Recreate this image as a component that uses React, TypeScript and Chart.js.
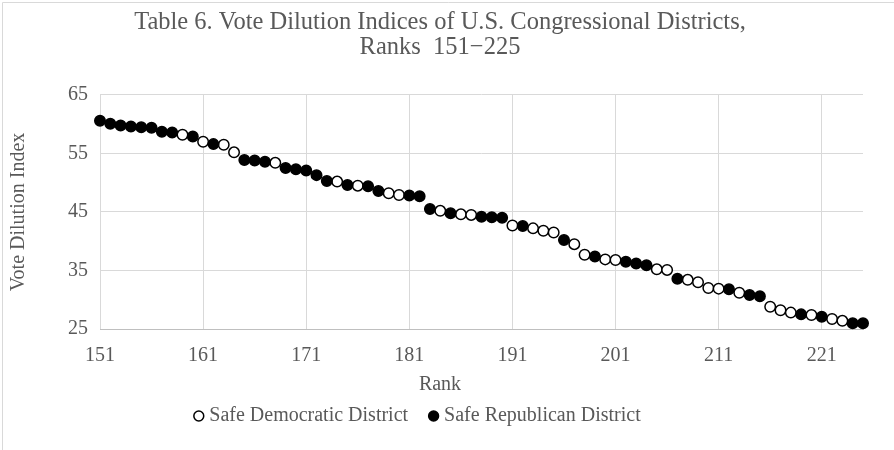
import { useEffect, useRef } from "react";
import { Chart, registerables } from "chart.js";

Chart.register(...registerables);

// District rank (x) and its vote dilution index (y)
const ranks = [
  151, 152, 153, 154, 155, 156, 157, 158, 159, 160,
  161, 162, 163, 164, 165, 166, 167, 168, 169, 170,
  171, 172, 173, 174, 175, 176, 177, 178, 179, 180,
  181, 182, 183, 184, 185, 186, 187, 188, 189, 190,
  191, 192, 193, 194, 195, 196, 197, 198, 199, 200,
  201, 202, 203, 204, 205, 206, 207, 208, 209, 210,
  211, 212, 213, 214, 215, 216, 217, 218, 219, 220,
  221, 222, 223, 224, 225,
];

// D = safe Democratic, R = safe Republican
const party = [
  "R", "R", "R", "R", "R", "R", "R", "R", "D", "R",
  "D", "R", "D", "D", "R", "R", "R", "D", "R", "R",
  "R", "R", "R", "D", "R", "D", "R", "R", "D", "D",
  "R", "R", "R", "D", "R", "D", "D", "R", "R", "R",
  "D", "R", "D", "D", "D", "R", "D", "D", "R", "D",
  "D", "R", "R", "R", "D", "D", "R", "D", "D", "D",
  "D", "R", "D", "R", "R", "D", "D", "D", "R", "D",
  "R", "D", "D", "R", "R",
];

const dilution = [
  60.6, 60.1, 59.8, 59.6, 59.5, 59.4, 58.7, 58.6, 58.2, 57.9,
  57.0, 56.6, 56.5, 55.2, 53.9, 53.8, 53.6, 53.4, 52.5, 52.3,
  52.1, 51.3, 50.3, 50.2, 49.6, 49.5, 49.4, 48.6, 48.2, 47.9,
  47.8, 47.7, 45.5, 45.2, 44.8, 44.6, 44.5, 44.2, 44.1, 44.0,
  42.7, 42.6, 42.2, 41.8, 41.5, 40.2, 39.5, 37.7, 37.4, 36.9,
  36.8, 36.5, 36.2, 35.9, 35.2, 35.1, 33.6, 33.4, 33.0, 32.0,
  31.9, 31.8, 31.2, 30.8, 30.6, 28.8, 28.2, 27.8, 27.5, 27.4,
  27.1, 26.7, 26.4, 26.0, 26.0,
];

const rankTicks = [151, 161, 171, 181, 191, 201, 211, 221];
const indexTicks = [25, 35, 45, 55, 65];

const TEXT = "#595959";
const GRID = "#d9d9d9";
const FONT = "'Liberation Serif', 'Times New Roman', serif";

function pointsFor(code: string) {
  const out: { x: number; y: number }[] = [];
  ranks.forEach((r, i) => {
    if (party[i] === code) out.push({ x: r, y: dilution[i] });
  });
  return out;
}

// thin outline along the top and left edges of the chart frame
const framePlugin = {
  id: "frame",
  beforeDraw(chart: Chart) {
    const ctx = chart.ctx;
    ctx.save();
    ctx.strokeStyle = GRID;
    ctx.lineWidth = 1;
    ctx.beginPath();
    ctx.moveTo(2.5, chart.height);
    ctx.lineTo(2.5, 2.5);
    ctx.lineTo(chart.width, 2.5);
    ctx.stroke();
    ctx.restore();
  },
};

export default function App() {
  const canvasRef = useRef<HTMLCanvasElement | null>(null);

  useEffect(() => {
    document.body.style.margin = "0";
    const canvas = canvasRef.current;
    if (!canvas) return;

    const marker = {
      pointRadius: 5.25,
      pointHoverRadius: 5.25,
      borderWidth: 1.5,
      borderColor: "#000000",
      clip: false as const,
    };

    const chart = new Chart(canvas, {
      type: "scatter",
      data: {
        datasets: [
          {
            label: "Safe Democratic District",
            data: pointsFor("D"),
            backgroundColor: "#ffffff",
            order: 1,
            ...marker,
          },
          {
            label: "Safe Republican District",
            data: pointsFor("R"),
            backgroundColor: "#000000",
            order: 0,
            ...marker,
          },
        ],
      },
      options: {
        animation: false,
        responsive: false,
        events: [],
        layout: { padding: { left: 0, right: 14, top: 0, bottom: 14 } },
        plugins: {
          title: {
            display: true,
            text: [
              "Table 6. Vote Dilution Indices of U.S. Congressional Districts,",
              "Ranks  151\u2212225",
            ],
            color: TEXT,
            font: { family: FONT, size: 24.5, weight: "normal", lineHeight: 1.02 },
            padding: { top: 10, bottom: 35 },
          },
          legend: {
            position: "bottom",
            labels: {
              usePointStyle: true,
              boxWidth: 1,
              boxHeight: 7,
              padding: 25,
              color: TEXT,
              font: { family: FONT, size: 20 },
              generateLabels: (c: Chart) => {
                const items = Chart.defaults.plugins.legend.labels
                  .generateLabels(c)
                  .sort((a: any, b: any) => a.datasetIndex - b.datasetIndex);
                // blank trailing entry: nudges the visible row a little left of centre
                items.push({
                  text: " ",
                  fillStyle: "rgba(0,0,0,0)",
                  strokeStyle: "rgba(0,0,0,0)",
                  lineWidth: 0,
                  pointStyle: "circle",
                  hidden: false,
                  datasetIndex: -1,
                } as any);
                return items;
              },
            },
            title: {
              display: true,
              text: "Rank",
              color: TEXT,
              font: { family: FONT, size: 20, lineHeight: 0.3 },
              padding: { top: 10, bottom: 0 },
            },
          },
          tooltip: { enabled: false },
        },
        scales: {
          x: {
            type: "linear",
            min: 151,
            max: 225,
            afterBuildTicks: (s: any) => {
              s.ticks = rankTicks.map((v) => ({ value: v }));
            },
            afterFit: (s: any) => {
              s.height = 36;
            },
            grid: { color: GRID, drawTicks: false },
            border: { color: "#bfbfbf" },
            ticks: {
              color: TEXT,
              font: { family: FONT, size: 20 },
              padding: 15,
              maxRotation: 0,
              autoSkip: false,
            },
          },
          y: {
            min: 25,
            max: 65,
            afterBuildTicks: (s: any) => {
              s.ticks = indexTicks.map((v) => ({ value: v }));
            },
            afterFit: (s: any) => {
              s.width = 100;
            },
            grid: { color: GRID, drawTicks: false },
            border: { display: false },
            ticks: {
              color: TEXT,
              font: { family: FONT, size: 20 },
              padding: 12,
            },
            title: {
              display: true,
              text: "Vote Dilution Index",
              color: TEXT,
              font: { family: FONT, size: 20 },
              padding: { top: 7, bottom: 0 },
            },
          },
          // empty strip on the right that keeps the plot clear of the frame edge
          gutter: {
            type: "linear",
            position: "right",
            display: true,
            grid: { display: false, drawOnChartArea: false },
            border: { display: false },
            ticks: { display: false },
            afterFit: (s: any) => {
              s.width = 17;
            },
          },
        },
      },
      plugins: [framePlugin],
    });

    return () => chart.destroy();
  }, []);

  return (
    <div style={{ width: 894, height: 450, position: "relative", background: "#ffffff" }}>
      <canvas ref={canvasRef} width={894} height={450} />
    </div>
  );
}
